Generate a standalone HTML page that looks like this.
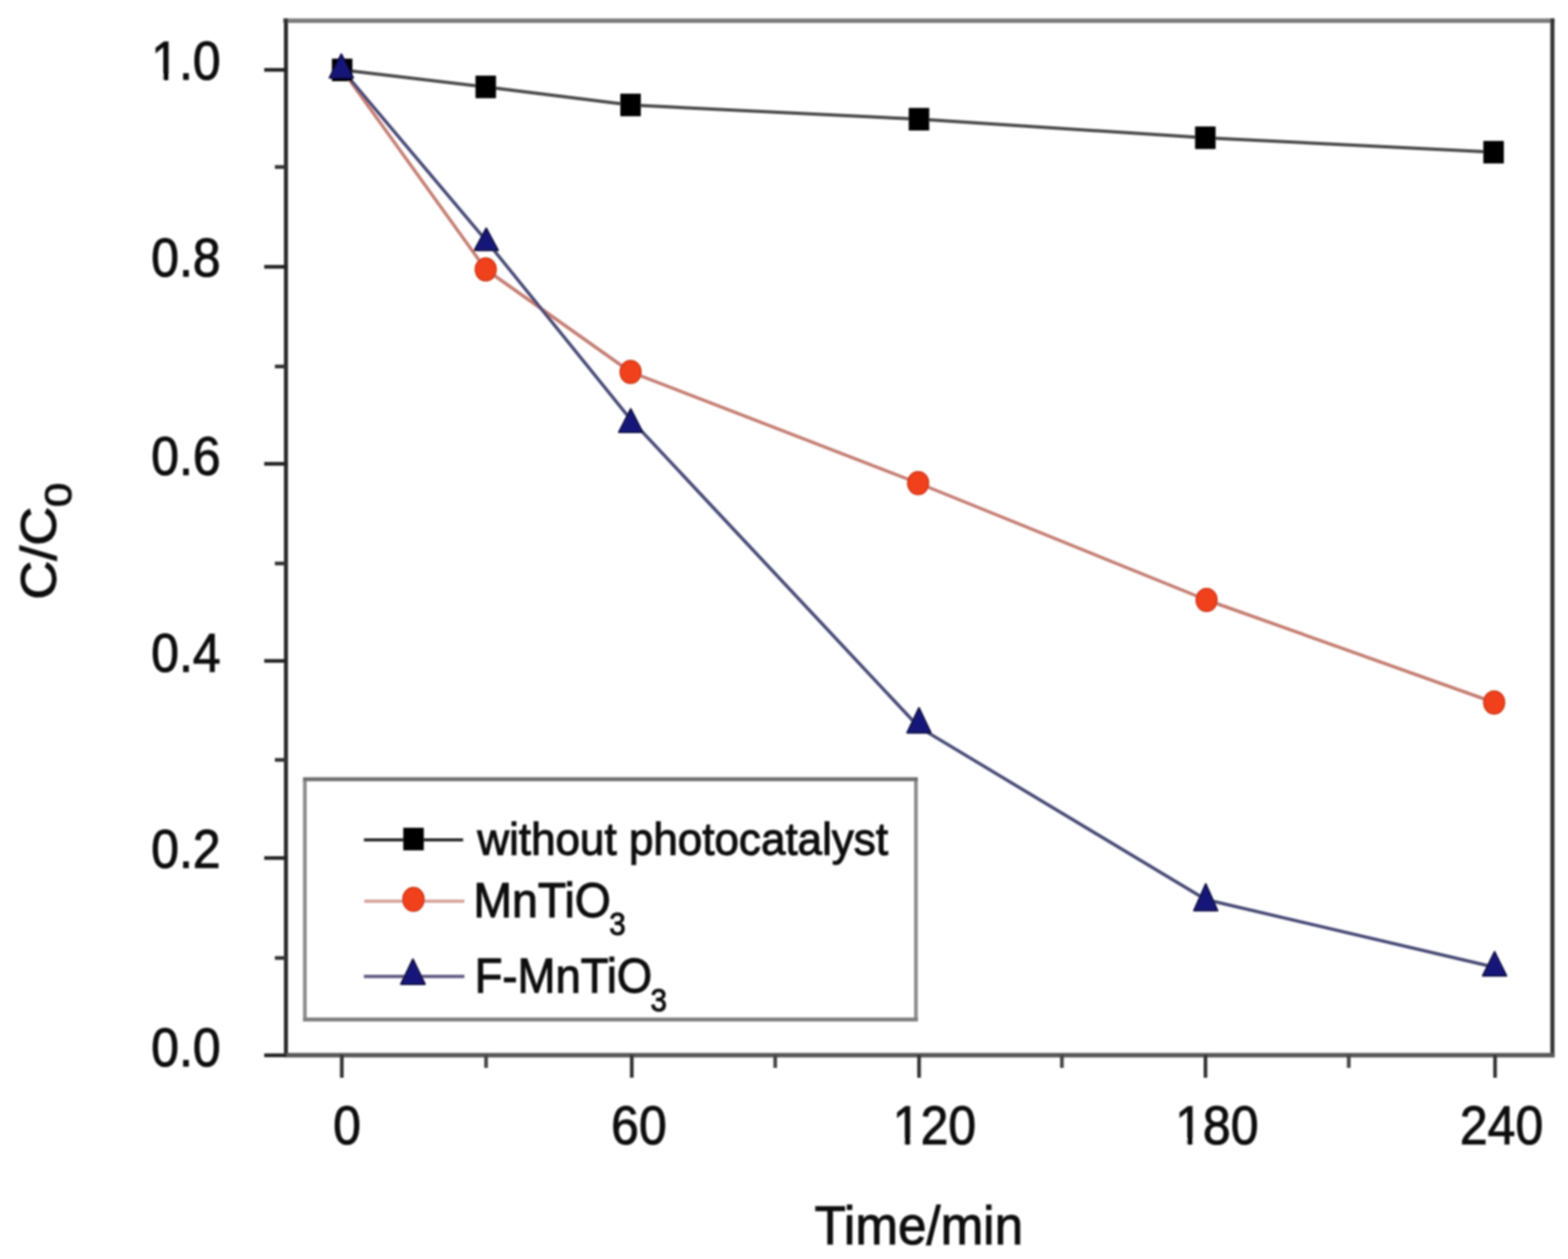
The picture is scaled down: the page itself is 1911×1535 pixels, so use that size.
<!DOCTYPE html>
<html lang="en">
<head>
<meta charset="utf-8">
<title>C/C0 vs Time</title>
<style>
html,body{margin:0;padding:0;background:#fff;width:1911px;height:1535px;overflow:hidden;}
svg text{font-family:"Liberation Sans", Arial, Helvetica, sans-serif;}
</style>
</head>
<body>
<svg width="1911" height="1535" viewBox="0 0 1911 1535" style="display:block;font-family:'Liberation Sans', Arial, Helvetica, sans-serif">
<defs><filter id="soft" x="0" y="0" width="100%" height="100%" filterUnits="userSpaceOnUse"><feGaussianBlur stdDeviation="1.0"/></filter></defs>
<rect width="1911" height="1535" fill="#fff"/>
<g filter="url(#soft)">
<g id="frame">
<line x1="345" y1="25.2" x2="1894.5" y2="25.2" stroke="#7c7c7c" stroke-width="5.5"/>
<line x1="348.5" y1="22.5" x2="348.5" y2="1289" stroke="#2e2e2e" stroke-width="5"/>
<line x1="1892" y1="22.5" x2="1892" y2="1289" stroke="#333" stroke-width="5"/>
<line x1="346" y1="1286.6" x2="1894.5" y2="1286.6" stroke="#585858" stroke-width="5.5"/>
<line x1="322" y1="85.2" x2="349" y2="85.2" stroke="#222" stroke-width="4.5"/>
<line x1="322" y1="325.3" x2="349" y2="325.3" stroke="#222" stroke-width="4.5"/>
<line x1="322" y1="565.5" x2="349" y2="565.5" stroke="#222" stroke-width="4.5"/>
<line x1="322" y1="805.8" x2="349" y2="805.8" stroke="#222" stroke-width="4.5"/>
<line x1="322" y1="1046.1" x2="349" y2="1046.1" stroke="#222" stroke-width="4.5"/>
<line x1="322" y1="1286.6" x2="349" y2="1286.6" stroke="#222" stroke-width="4.5"/>
<line x1="335" y1="203.6" x2="349" y2="203.6" stroke="#333" stroke-width="4.5"/>
<line x1="335" y1="446.8" x2="349" y2="446.8" stroke="#333" stroke-width="4.5"/>
<line x1="335" y1="687.0" x2="349" y2="687.0" stroke="#333" stroke-width="4.5"/>
<line x1="335" y1="926.5" x2="349" y2="926.5" stroke="#333" stroke-width="4.5"/>
<line x1="335" y1="1168.0" x2="349" y2="1168.0" stroke="#333" stroke-width="4.5"/>
<line x1="416.6" y1="1286" x2="416.6" y2="1314" stroke="#333" stroke-width="4.5"/>
<line x1="770.0" y1="1286" x2="770.0" y2="1314" stroke="#333" stroke-width="4.5"/>
<line x1="1120.1" y1="1286" x2="1120.1" y2="1314" stroke="#333" stroke-width="4.5"/>
<line x1="1469.2" y1="1286" x2="1469.2" y2="1314" stroke="#333" stroke-width="4.5"/>
<line x1="1822.1" y1="1286" x2="1822.1" y2="1314" stroke="#333" stroke-width="4.5"/>
<line x1="592.4" y1="1286" x2="592.4" y2="1302" stroke="#444" stroke-width="4.5"/>
<line x1="944.8" y1="1286" x2="944.8" y2="1302" stroke="#444" stroke-width="4.5"/>
<line x1="1294.2" y1="1286" x2="1294.2" y2="1302" stroke="#444" stroke-width="4.5"/>
<line x1="1643.8" y1="1286" x2="1643.8" y2="1302" stroke="#444" stroke-width="4.5"/>
</g>
<g id="data">
<polyline points="417.0,85.2 592.0,106.0 768.5,128.0 1120.0,145.3 1469.0,168.0 1820.3,185.5" fill="none" stroke="#4a4a4a" stroke-width="4" stroke-linejoin="round"/>
<polyline points="417.0,85.2 592.0,328.5 768.5,453.5 1119.0,589.0 1470.5,731.5 1821.0,856.5" fill="none" stroke="#c47e72" stroke-width="4" stroke-linejoin="round"/>
<polyline points="416.5,84.5 592.6,293.5 768.7,511.5 1120.0,886.6 1469.5,1096.8 1821.5,1179.3" fill="none" stroke="#464975" stroke-width="4" stroke-linejoin="round"/>
<ellipse cx="592" cy="328.5" rx="12.8" ry="14" fill="#f0401a" stroke="#c83010" stroke-width="1.5"/>
<ellipse cx="768.5" cy="453.5" rx="12.8" ry="14" fill="#f0401a" stroke="#c83010" stroke-width="1.5"/>
<ellipse cx="1119" cy="589" rx="12.8" ry="14" fill="#f0401a" stroke="#c83010" stroke-width="1.5"/>
<ellipse cx="1470.5" cy="731.5" rx="12.8" ry="14" fill="#f0401a" stroke="#c83010" stroke-width="1.5"/>
<ellipse cx="1821" cy="856.5" rx="12.8" ry="14" fill="#f0401a" stroke="#c83010" stroke-width="1.5"/>
<rect x="404.5" y="71.5" width="25" height="27.5" fill="#050505"/>
<rect x="579.5" y="92.2" width="25" height="27.5" fill="#050505"/>
<rect x="756.0" y="114.2" width="25" height="27.5" fill="#050505"/>
<rect x="1107.5" y="131.6" width="25" height="27.5" fill="#050505"/>
<rect x="1456.5" y="154.2" width="25" height="27.5" fill="#050505"/>
<rect x="1807.8" y="171.8" width="25" height="27.5" fill="#050505"/>
<polygon points="416.0,66.0 401.5,95.0 430.5,95.0" fill="#15157a" stroke="#0a0a40" stroke-width="2" stroke-linejoin="round"/>
<polygon points="592.6,278.3 578.1,305.3 607.1,305.3" fill="#15157a" stroke="#0a0a40" stroke-width="2" stroke-linejoin="round"/>
<polygon points="768.7,498.5 754.2,527.0 783.2,527.0" fill="#15157a" stroke="#0a0a40" stroke-width="2" stroke-linejoin="round"/>
<polygon points="1120.0,863.0 1105.5,893.4 1134.5,893.4" fill="#15157a" stroke="#0a0a40" stroke-width="2" stroke-linejoin="round"/>
<polygon points="1469.5,1077.7 1455.0,1110.3 1484.0,1110.3" fill="#15157a" stroke="#0a0a40" stroke-width="2" stroke-linejoin="round"/>
<polygon points="1821.5,1160.4 1807.0,1189.8 1836.0,1189.8" fill="#15157a" stroke="#0a0a40" stroke-width="2" stroke-linejoin="round"/>
</g>
<g id="legend">
<rect x="371.6" y="950.1" width="744.7" height="292.9" fill="none" stroke="#8a8a8a" stroke-width="4.5"/>
<line x1="369.5" y1="950.1" x2="1118.5" y2="950.1" stroke="#6e6e6e" stroke-width="4.5"/>
<line x1="369.5" y1="1243" x2="1118.5" y2="1243" stroke="#7e7e7e" stroke-width="4.5"/>
<line x1="443.5" y1="1024" x2="564.5" y2="1024" stroke="#333" stroke-width="4"/>
<rect x="491.5" y="1009.25" width="25" height="27.5" fill="#050505"/>
<line x1="444" y1="1098.7" x2="566" y2="1098.7" stroke="#d6a39b" stroke-width="4"/>
<ellipse cx="503.9" cy="1096.5" rx="13" ry="14.5" fill="#f0401a" stroke="#c83010" stroke-width="1.5"/>
<line x1="443.5" y1="1190.4" x2="566" y2="1190.4" stroke="#5c5880" stroke-width="4"/>
<polygon points="503.2,1169.5 488.5,1200 518,1200" fill="#15157a" stroke="#0a0a40" stroke-width="2" stroke-linejoin="round"/>
<text transform="translate(581.70,1041.80) scale(0.9750,1)" font-size="55.0" text-anchor="start" fill="#111" stroke="#111" stroke-width="1.2" style="stroke-width:1.3px">without photocatalyst</text>
<text transform="translate(577.00,1117.90) scale(0.9500,1)" font-size="59.5" text-anchor="start" fill="#111" stroke="#111" stroke-width="1.2" style="stroke-width:1.3px">MnTiO</text>
<text transform="translate(742.50,1139.50) scale(0.9500,1)" font-size="38" text-anchor="start" fill="#111" stroke="#111" stroke-width="1.2" style="stroke-width:1.3px">3</text>
<text transform="translate(578.39,1209.70) scale(0.9320,1)" font-size="59.5" text-anchor="start" fill="#111" stroke="#111" stroke-width="1.2" style="stroke-width:1.3px">F-MnTiO</text>
<text transform="translate(792.80,1233.30) scale(0.9500,1)" font-size="38" text-anchor="start" fill="#111" stroke="#111" stroke-width="1.2" style="stroke-width:1.3px">3</text>
</g>
<g id="labels">
<text transform="translate(268.90,97.00) scale(0.9150,1)" font-size="66.5" text-anchor="end" fill="#111" stroke="#111" stroke-width="1.2">1.0</text><g transform="translate(268.90,97.00) scale(0.9150,1)"><rect x="-89.88" y="-6.07" width="13.21" height="8.57" fill="#fff"/><rect x="-68.89" y="-6.07" width="12.69" height="8.57" fill="#fff"/><rect x="-76.32" y="-7.97" width="7.08" height="8.57" fill="#111"/></g>
<text transform="translate(268.90,337.10) scale(0.9150,1)" font-size="66.5" text-anchor="end" fill="#111" stroke="#111" stroke-width="1.2">0.8</text>
<text transform="translate(268.90,578.80) scale(0.9150,1)" font-size="66.5" text-anchor="end" fill="#111" stroke="#111" stroke-width="1.2">0.6</text>
<text transform="translate(268.90,819.10) scale(0.9150,1)" font-size="66.5" text-anchor="end" fill="#111" stroke="#111" stroke-width="1.2">0.4</text>
<text transform="translate(268.90,1058.10) scale(0.9150,1)" font-size="66.5" text-anchor="end" fill="#111" stroke="#111" stroke-width="1.2">0.2</text>
<text transform="translate(268.90,1299.60) scale(0.9150,1)" font-size="66.5" text-anchor="end" fill="#111" stroke="#111" stroke-width="1.2">0.0</text>
<text transform="translate(422.80,1394.60) scale(0.9150,1)" font-size="66.5" text-anchor="middle" fill="#111" stroke="#111" stroke-width="1.2">0</text>
<text transform="translate(778.70,1394.60) scale(0.9150,1)" font-size="66.5" text-anchor="middle" fill="#111" stroke="#111" stroke-width="1.2">60</text>
<text transform="translate(1138.80,1394.60) scale(0.9150,1)" font-size="66.5" text-anchor="middle" fill="#111" stroke="#111" stroke-width="1.2">120</text><g transform="translate(1138.80,1394.60) scale(0.9150,1)"><rect x="-52.91" y="-6.07" width="13.21" height="8.57" fill="#fff"/><rect x="-31.93" y="-6.07" width="12.69" height="8.57" fill="#fff"/><rect x="-39.35" y="-7.97" width="7.08" height="8.57" fill="#111"/></g>
<text transform="translate(1483.00,1394.60) scale(0.9150,1)" font-size="66.5" text-anchor="middle" fill="#111" stroke="#111" stroke-width="1.2">180</text><g transform="translate(1483.00,1394.60) scale(0.9150,1)"><rect x="-52.91" y="-6.07" width="13.21" height="8.57" fill="#fff"/><rect x="-31.93" y="-6.07" width="12.69" height="8.57" fill="#fff"/><rect x="-39.35" y="-7.97" width="7.08" height="8.57" fill="#111"/></g>
<text transform="translate(1830.00,1394.60) scale(0.9150,1)" font-size="66.5" text-anchor="middle" fill="#111" stroke="#111" stroke-width="1.2">240</text>
<text transform="translate(992.85,1517.15) scale(0.9266,1)" font-size="67.3" text-anchor="start" fill="#111" stroke="#111" stroke-width="1.2">Time/min</text>
<text transform="translate(67.90,731.35) rotate(-90) scale(1.0670,1)" font-size="61.8" text-anchor="start" fill="#111" stroke="#111" stroke-width="1.2">C/C</text>
<text transform="translate(87.00,618.20) rotate(-90) scale(1.1600,1)" font-size="46" text-anchor="start" fill="#111" stroke="#111" stroke-width="1.2">0</text>
</g>
</g>
</svg>
</body>
</html>
